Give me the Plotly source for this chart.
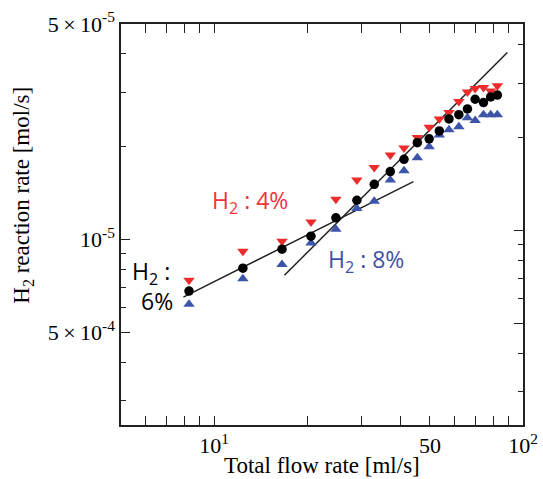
import plotly.graph_objects as go
import math

# ---- data ----
flow = [8.3, 12.4, 16.6, 20.6, 24.8, 29.0, 33.0, 37.2, 41.2, 45.5,
        49.7, 53.6, 57.6, 62.0, 66.1, 70.0, 74.5, 78.6, 82.6]
rate_h2_6 = [6.8e-6, 8.07e-6, 9.3e-6, 1.025e-5, 1.175e-5, 1.34e-5, 1.51e-5, 1.66e-5,
             1.82e-5, 2.06e-5, 2.12e-5, 2.25e-5, 2.46e-5, 2.54e-5, 2.65e-5, 2.85e-5,
             2.78e-5, 2.90e-5, 2.94e-5]
rate_h2_4 = [7.37e-6, 9.15e-6, 9.87e-6, 1.14e-5, 1.35e-5, 1.56e-5, 1.71e-5, 1.88e-5,
             1.98e-5, 2.14e-5, 2.31e-5, 2.46e-5, 2.58e-5, 2.80e-5, 3.01e-5, 3.09e-5,
             3.11e-5, 3.03e-5, 3.15e-5]
rate_h2_8 = [6.16e-6, 7.46e-6, 8.3e-6, 9.73e-6, 1.08e-5, 1.26e-5, 1.33e-5, 1.56e-5,
             1.67e-5, 1.84e-5, 2.00e-5, 2.18e-5, 2.27e-5, 2.32e-5, 2.48e-5, 2.43e-5,
             2.54e-5, 2.54e-5, 2.54e-5]

fit_low_x = [7.96, 44.2]
fit_low_y = [6.5e-6, 1.54e-5]
fit_high_x = [16.9, 89.0]
fit_high_y = [7.65e-6, 4.04e-5]

x_tickvals = [10, 50, 100]
x_ticktext = ["10<sup>1</sup>", "50", "10<sup>2</sup>"]
x_minor = [6, 7, 8, 9, 20, 30, 40, 60, 70, 80, 90]
y_tickvals = [5e-6, 1e-5, 5e-5]
y_ticktext = ["5\u2009\u00d7\u200910<sup>-4</sup>", "10<sup>-5</sup>",
              "5\u2009\u00d7\u200910<sup>-5</sup>"]
y_minor = [3e-6, 4e-6, 6e-6, 7e-6, 8e-6, 9e-6, 2e-5, 3e-5, 4e-5]

x_range = [5, 100]
y_range = [2.5e-6, 5e-5]

RED = "#ee2b2b"
BLUE = "#3d55a8"
serif = "Liberation Serif"
sans = "Open Sans"

fig = go.Figure()
fig.add_trace(go.Scatter(x=fit_low_x, y=fit_low_y, mode="lines",
                         line=dict(color="#222222", width=1.5), showlegend=False))
fig.add_trace(go.Scatter(x=fit_high_x, y=fit_high_y, mode="lines",
                         line=dict(color="#222222", width=1.5), showlegend=False))
fig.add_trace(go.Scatter(x=flow, y=rate_h2_4, mode="markers",
                         marker=dict(symbol="triangle-down", size=10, color=RED),
                         showlegend=False))
fig.add_trace(go.Scatter(x=flow, y=rate_h2_8, mode="markers",
                         marker=dict(symbol="triangle-up", size=10, color=BLUE),
                         showlegend=False))
fig.add_trace(go.Scatter(x=flow, y=rate_h2_6, mode="markers",
                         marker=dict(symbol="circle", size=9.5, color="black"),
                         showlegend=False))
# carrier trace for the right-hand tick axis
fig.add_trace(go.Scatter(x=[None], y=[None], yaxis="y2", showlegend=False,
                         hoverinfo="skip"))

ly0, ly1 = math.log10(y_range[0]), math.log10(y_range[1])
shift = 0.029

tick_common = dict(ticks="inside", ticklen=9, tickwidth=1.3, tickcolor="#222",
                   showline=True, linecolor="#222", linewidth=1.5,
                   showgrid=False, zeroline=False, automargin=False)

fig.update_layout(
    width=543, height=479,
    margin=dict(l=121, r=20, t=24, b=54),
    paper_bgcolor="white", plot_bgcolor="white",
    font=dict(family=serif, size=22, color="black"),
    xaxis=dict(type="log", range=[math.log10(x_range[0]), math.log10(x_range[1])],
               tickmode="array", tickvals=x_tickvals, ticktext=x_ticktext,
               mirror="allticks", tickfont=dict(family=serif, size=22),
               minor=dict(tickmode="array", tickvals=x_minor, ticks="inside",
                          ticklen=5, tickwidth=1.3, tickcolor="#222", showgrid=False),
               **tick_common),
    yaxis=dict(type="log", range=[ly0, ly1],
               tickmode="array", tickvals=y_tickvals, ticktext=y_ticktext,
               mirror=False, tickfont=dict(family=serif, size=22),
               minor=dict(tickmode="array", tickvals=y_minor, ticks="inside",
                          ticklen=5, tickwidth=1.3, tickcolor="#222", showgrid=False),
               **tick_common),
    yaxis2=dict(type="log", range=[ly0 - shift, ly1 - shift], overlaying="y", side="right",
                anchor="x", tickmode="array", tickvals=y_tickvals,
                showticklabels=False,
                minor=dict(tickmode="array", tickvals=y_minor, ticks="inside",
                           ticklen=5, tickwidth=1.3, tickcolor="#222", showgrid=False),
                **tick_common),
)

ann = [
    dict(text="H<sub>2</sub> : 4%", x=0.321, y=0.557, color="#f0333d", size=23),
    dict(text="H<sub>2</sub> : 8%", x=0.609, y=0.409, color="#4050a3", size=23),
    dict(text="H<sub>2</sub> :", x=0.075, y=0.38, color="black", size=23),
    dict(text="6%", x=0.0896, y=0.31, color="black", size=23),
]
for a in ann:
    fig.add_annotation(text=a["text"], x=a["x"], y=a["y"], xref="paper", yref="paper",
                       showarrow=False, xanchor="center", yanchor="middle",
                       font=dict(family=sans, size=a["size"], color=a["color"]))

fig.add_annotation(text="H<sub>2</sub> reaction rate [mol/s]", x=-0.244, y=0.574,
                   xref="paper", yref="paper", showarrow=False, textangle=-90,
                   xanchor="center", yanchor="middle",
                   font=dict(family=serif, size=23, color="black"))
fig.add_annotation(text="Total flow rate [ml/s]", x=0.5, y=-0.102,
                   xref="paper", yref="paper", showarrow=False,
                   xanchor="center", yanchor="middle",
                   font=dict(family=serif, size=23, color="black"))

fig.write_html("out.html", config={"displayModeBar": False},
               post_script="document.body.style.margin='0';document.body.style.padding='0';")
